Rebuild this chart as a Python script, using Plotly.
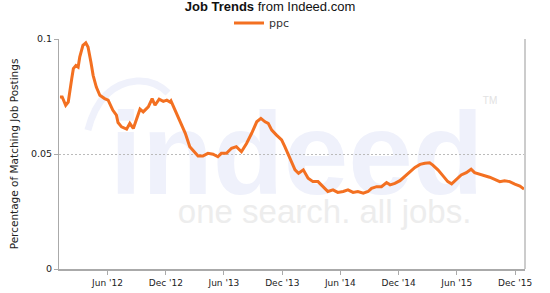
import plotly.graph_objects as go

# ---- data ----
dates = [
    "2012-01-04", "2012-01-11", "2012-01-22", "2012-01-30", "2012-02-10", "2012-02-15",
    "2012-02-23", "2012-03-01", "2012-03-06", "2012-03-16", "2012-03-25", "2012-04-01",
    "2012-04-10", "2012-04-17", "2012-04-27", "2012-05-08", "2012-05-23", "2012-06-03",
    "2012-06-18", "2012-06-29", "2012-07-04", "2012-07-15", "2012-07-31", "2012-08-10",
    "2012-08-21", "2012-09-01", "2012-09-11", "2012-09-21", "2012-10-07", "2012-10-19",
    "2012-10-28", "2012-11-10", "2012-11-23", "2012-12-04", "2012-12-14", "2012-12-17",
    "2012-12-30", "2013-01-15", "2013-01-31", "2013-02-14", "2013-02-27", "2013-03-12",
    "2013-03-27", "2013-04-12", "2013-04-28", "2013-05-13", "2013-05-24", "2013-06-09",
    "2013-06-25", "2013-07-10", "2013-07-26", "2013-08-11", "2013-08-27", "2013-09-12",
    "2013-09-25", "2013-10-08", "2013-10-18", "2013-10-29", "2013-11-13", "2013-11-29",
    "2013-12-09", "2013-12-25", "2014-01-10", "2014-01-21", "2014-02-05", "2014-02-20",
    "2014-03-07", "2014-03-23", "2014-04-08", "2014-04-23", "2014-05-09", "2014-05-24",
    "2014-06-10", "2014-06-25", "2014-07-11", "2014-07-26", "2014-08-12", "2014-08-27",
    "2014-09-07", "2014-09-23", "2014-10-08", "2014-10-24", "2014-11-04", "2014-11-19",
    "2014-12-05", "2014-12-20", "2015-01-06", "2015-01-21", "2015-02-06", "2015-02-21",
    "2015-03-08", "2015-03-18", "2015-04-03", "2015-04-19", "2015-05-04", "2015-05-16",
    "2015-05-30", "2015-06-15", "2015-07-01", "2015-07-16", "2015-07-27", "2015-08-12",
    "2015-08-27", "2015-09-12", "2015-09-28", "2015-10-14", "2015-10-29", "2015-11-14",
    "2015-11-30", "2015-12-16", "2015-12-29",
]
ppc = [
    0.0748, 0.0748, 0.0712, 0.0726, 0.0828, 0.0871,
    0.0885, 0.0878, 0.0921, 0.0972, 0.0983, 0.0965,
    0.0900, 0.0842, 0.0791, 0.0755, 0.0741, 0.0734,
    0.0690, 0.0669, 0.0637, 0.0618, 0.0608, 0.0633,
    0.0611, 0.0655, 0.0695, 0.0683, 0.0705, 0.0741,
    0.0712, 0.0738, 0.0729, 0.0734, 0.0726, 0.0731,
    0.0690, 0.0640, 0.0590, 0.0532, 0.0510, 0.0491,
    0.0491, 0.0503, 0.0499, 0.0488, 0.0503, 0.0503,
    0.0525, 0.0532, 0.0510, 0.0546, 0.0590, 0.0640,
    0.0655, 0.0640, 0.0633, 0.0604, 0.0582, 0.0561,
    0.0532, 0.0481, 0.0431, 0.0416, 0.0431, 0.0395,
    0.0380, 0.0380, 0.0358, 0.0337, 0.0344, 0.0333,
    0.0337, 0.0344, 0.0333, 0.0337, 0.0330, 0.0337,
    0.0351, 0.0358, 0.0358, 0.0376, 0.0366, 0.0372,
    0.0384, 0.0404, 0.0423, 0.0442, 0.0455, 0.0460,
    0.0462, 0.0452, 0.0431, 0.0405, 0.0380, 0.0370,
    0.0390, 0.0409, 0.0419, 0.0434, 0.0419, 0.0413,
    0.0405, 0.0399, 0.0390, 0.0380, 0.0384, 0.0380,
    0.0369, 0.0361, 0.0347,
]
tick_dates = ["2012-06-01", "2012-12-01", "2013-06-01", "2013-12-01",
              "2014-06-01", "2014-12-01", "2015-06-01", "2015-12-01"]
tick_labels = ["Jun '12", "Dec '12", "Jun '13", "Dec '13",
               "Jun '14", "Dec '14", "Jun '15", "Dec '15"]
y_ticks = [0, 0.05, 0.1]
y_tick_labels = ["0", "0.05", "0.1"]

ORANGE = "#f37021"
WM_BLUE = "#eff1fb"
WM_GRAY = "#ededed"

fig = go.Figure()
fig.add_trace(go.Scatter(
    x=dates, y=ppc, mode="lines", name="ppc",
    line=dict(color=ORANGE, width=3),
))

shapes = [
    # watermark "indeed"
    dict(type="rect", xref="paper", yref="paper", x0=0.13, x1=0.89, y0=0.40, y1=0.70,
         line=dict(width=0), fillcolor="rgba(0,0,0,0)", layer="below",
         label=dict(text="indeed", textposition="middle center",
                    font=dict(family="Liberation Sans", size=116, color=WM_BLUE, weight="bold"))),
    # watermark slogan
    dict(type="rect", xref="paper", yref="paper", x0=0.25, x1=0.89, y0=0.20, y1=0.33,
         line=dict(width=0), fillcolor="rgba(0,0,0,0)", layer="below",
         label=dict(text="one search. all jobs.", textposition="middle center",
                    font=dict(family="Liberation Sans", size=33, color=WM_GRAY))),
    # TM
    dict(type="rect", xref="paper", yref="paper", x0=0.89, x1=0.96, y0=0.70, y1=0.77,
         line=dict(width=0), fillcolor="rgba(0,0,0,0)", layer="below",
         label=dict(text="TM", textposition="middle center",
                    font=dict(family="Liberation Sans", size=10, color="#e2e2e2"))),
    # swoosh over the i
    dict(type="path", xref="paper", yref="paper", layer="below",
         path="M 0.062,0.604 Q 0.088,0.804 0.167,0.817 Q 0.206,0.822 0.234,0.765",
         line=dict(color=WM_BLUE, width=7)),
    # right border
    dict(type="line", xref="paper", yref="paper", x0=1, x1=1, y0=0, y1=1,
         line=dict(color="#cccccc", width=2)),
]

fig.update_layout(
    width=550, height=293,
    margin=dict(l=59, r=25, t=39, b=24, autoexpand=False),
    paper_bgcolor="white", plot_bgcolor="white",
    title=dict(text="<b>Job Trends</b> from Indeed.com",
               x=270 / 550, xanchor="center", xref="container",
               y=1 - 6 / 293, yanchor="middle", yref="container",
               font=dict(family="Liberation Sans", size=13, color="#111111")),
    showlegend=True,
    legend=dict(orientation="h", xref="container", yref="container",
                x=262 / 550, xanchor="center", y=1 - 23 / 293, yanchor="middle",
                font=dict(family="DejaVu Sans", size=11, color="#333333"),
                bgcolor="rgba(0,0,0,0)", itemwidth=30),
    xaxis=dict(
        type="date", range=["2012-01-01", "2016-01-01"],
        tickmode="array", tickvals=tick_dates, ticktext=tick_labels,
        showgrid=False, zeroline=False,
        showline=True, linecolor="#aaaaaa", linewidth=2,
        ticks="outside", ticklen=4, tickcolor="#aaaaaa",
        tickfont=dict(family="DejaVu Sans", size=9, color="#222222"),
    ),
    yaxis=dict(
        range=[0, 0.1], tickmode="array", tickvals=y_ticks, ticktext=y_tick_labels,
        showgrid=True, gridcolor="#bbbbbb", griddash="2px,2px", gridwidth=1,
        zeroline=False,
        showline=True, linecolor="#aaaaaa", linewidth=1,
        ticks="outside", ticklen=4, tickcolor="#aaaaaa",
        tickfont=dict(family="DejaVu Sans", size=9.5, color="#222222"),
        title=dict(text="Percentage of Matching Job Postings", standoff=10,
                   font=dict(family="DejaVu Sans", size=10.5, color="#222222")),
    ),
    shapes=shapes,
)

fig.write_html("out.html")
